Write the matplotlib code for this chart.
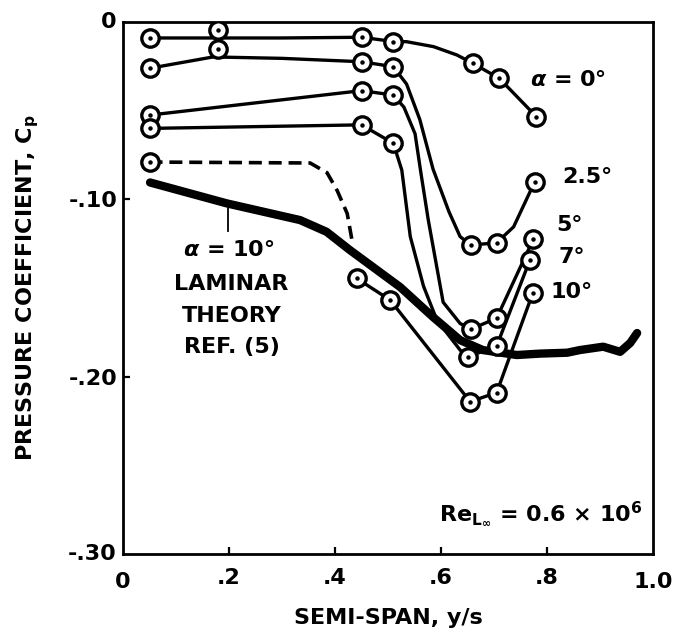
import matplotlib
matplotlib.use("Agg")
import matplotlib.pyplot as plt

plt.rcParams['font.family'] = ['DejaVu Sans']
plt.rcParams['font.weight'] = 'bold'
plt.rcParams['mathtext.fontset'] = 'dejavusans'

# ---- measured points (semi-span y/s, pressure coefficient Cp) ----
a0_x = [0.05, 0.18, 0.45, 0.51, 0.66, 0.71, 0.78]
a0_y = [-0.009, -0.0045, -0.0086, -0.011, -0.0233, -0.0318, -0.0534]

a25_x = [0.05, 0.18, 0.45, 0.51, 0.656, 0.705, 0.777]
a25_y = [-0.0261, -0.0154, -0.0224, -0.0252, -0.1258, -0.1245, -0.090]

a5_x = [0.05, 0.45, 0.51, 0.656, 0.705, 0.774]
a5_y = [-0.0525, -0.0387, -0.0412, -0.1733, -0.167, -0.1226]

a7_x = [0.05, 0.45, 0.51, 0.651, 0.705, 0.768]
a7_y = [-0.060, -0.058, -0.0684, -0.1888, -0.1827, -0.134]

a10_x = [0.05, 0.441, 0.504, 0.655, 0.705, 0.773]
a10_y = [-0.079, -0.1446, -0.1568, -0.2141, -0.209, -0.153]

# ---- faired curves drawn through the data ----
a0_fx = [0.05, 0.30, 0.45, 0.51, 0.535, 0.586, 0.63, 0.66, 0.71, 0.78]
a0_fy = [-0.009, -0.0090, -0.0086, -0.011, -0.0111, -0.0139, -0.0186, -0.0233, -0.0318, -0.0534]

a25_fx = [0.05, 0.17, 0.30, 0.45, 0.51, 0.535, 0.56, 0.585, 0.615, 0.636, 0.656, 0.705, 0.737, 0.777]
a25_fy = [-0.0261, -0.0197, -0.0205, -0.0224, -0.0252, -0.035, -0.055, -0.083, -0.107, -0.121, -0.1258, -0.1245, -0.1155, -0.090]

a5_fx = [0.05, 0.45, 0.51, 0.530, 0.551, 0.562, 0.576, 0.604, 0.636, 0.656, 0.705, 0.774]
a5_fy = [-0.0525, -0.0387, -0.0412, -0.048, -0.063, -0.085, -0.1117, -0.158, -0.170, -0.1733, -0.167, -0.1226]

a7_fx = [0.05, 0.45, 0.51, 0.526, 0.542, 0.567, 0.592, 0.636, 0.651, 0.705, 0.768]
a7_fy = [-0.060, -0.058, -0.0684, -0.0835, -0.121, -0.149, -0.168, -0.185, -0.1888, -0.1827, -0.134]

a10_fx = [0.441, 0.504, 0.655, 0.705, 0.773]
a10_fy = [-0.1446, -0.1568, -0.2141, -0.209, -0.153]

# dashed fairing of the alpha = 10 deg data near the root
a10_dx = [0.05, 0.066, 0.353, 0.385, 0.404, 0.423, 0.432]
a10_dy = [-0.079, -0.079, -0.0795, -0.085, -0.095, -0.108, -0.123]

# laminar theory, alpha = 10 deg, Ref. (5)
th_x = [0.051, 0.196, 0.334, 0.384, 0.428, 0.523, 0.585, 0.636, 0.679, 0.743,
        0.787, 0.838, 0.862, 0.906, 0.938, 0.957, 0.970]
th_y = [-0.0905, -0.1023, -0.1117, -0.1183, -0.1286, -0.1495, -0.1664, -0.1794, -0.185, -0.1878,
        -0.187, -0.1865, -0.185, -0.1831, -0.186, -0.181, -0.1754]

x_ticks = [0, 0.2, 0.4, 0.6, 0.8, 1.0]
x_tick_labels = ['0', '.2', '.4', '.6', '.8', '1.0']
y_ticks = [0, -0.10, -0.20, -0.30]
y_tick_labels = ['0', '-.10', '-.20', '-.30']

FS = 16
fig = plt.figure(figsize=(6.73, 6.38), dpi=100)
ax = fig.add_axes([0.1828, 0.1317, 0.7875, 0.8338])
ax.set_xlim(0, 1.0)
ax.set_ylim(-0.30, 0)

LW = 2.4
for fx, fy in [(a0_fx, a0_fy), (a25_fx, a25_fy), (a5_fx, a5_fy),
               (a7_fx, a7_fy), (a10_fx, a10_fy)]:
    ax.plot(fx, fy, color='black', lw=LW, solid_capstyle='round',
            solid_joinstyle='round', zorder=2)

ax.plot(a10_dx, a10_dy, color='black', lw=2.6, dashes=(3.6, 1.9), zorder=2)
ax.plot(th_x, th_y, color='black', lw=6, solid_capstyle='round',
        solid_joinstyle='round', zorder=2)

for mx, my in [(a0_x, a0_y), (a25_x, a25_y), (a5_x, a5_y),
               (a7_x, a7_y), (a10_x, a10_y)]:
    ax.plot(mx, my, 'o', ms=12.5, mfc='white', mec='black', mew=2.4, zorder=3)
    ax.plot(mx, my, 'o', ms=2.2, color='black', zorder=4)

# curve labels
ax.text(0.768, -0.0327, r'$\alpha$ = 0°', fontsize=FS, fontweight='bold', va='center', ha='left')
ax.text(0.828, -0.0874, '2.5°', fontsize=FS, fontweight='bold', va='center', ha='left')
ax.text(0.818, -0.1145, '5°', fontsize=FS, fontweight='bold', va='center', ha='left')
ax.text(0.821, -0.1324, '7°', fontsize=FS, fontweight='bold', va='center', ha='left')
ax.text(0.806, -0.152, '10°', fontsize=FS, fontweight='bold', va='center', ha='left')

# theory callout
ax.plot([0.199, 0.199], [-0.1032, -0.118], color='black', lw=1.3, zorder=2)
ax.text(0.199, -0.1286, r'$\alpha$ = 10°', fontsize=FS, fontweight='bold', ha='center', va='center')
ax.text(0.205, -0.148, 'LAMINAR', fontsize=FS, fontweight='bold', ha='center', va='center')
ax.text(0.205, -0.166, 'THEORY', fontsize=FS, fontweight='bold', ha='center', va='center')
ax.text(0.205, -0.183, 'REF. (5)', fontsize=FS, fontweight='bold', ha='center', va='center')

ax.text(0.981, -0.2815,
        r'$\mathbf{Re}_{\mathbf{L}_{\mathbf{\infty}}}$ = 0.6 × 10$^{\mathbf{6}}$',
        fontsize=FS, fontweight='bold', ha='right', va='baseline')

# axes styling
for s in ax.spines.values():
    s.set_linewidth(2.0)
ax.set_xticks(x_ticks[1:-1])
ax.set_xticklabels(x_tick_labels[1:-1])
ax.set_yticks(y_ticks[1:-1])
ax.set_yticklabels(y_tick_labels[1:-1])
ax.tick_params(axis='both', direction='in', length=5, width=1.6, labelsize=FS)
ax.tick_params(axis='x', pad=10)
ax.tick_params(axis='y', pad=4)
for lab in ax.get_xticklabels() + ax.get_yticklabels():
    lab.set_fontweight('bold')

# end labels sit at the corners without tick marks
ax.text(0.0, -0.034, x_tick_labels[0], transform=ax.transAxes, fontsize=FS,
        fontweight='bold', ha='center', va='top')
ax.text(1.0, -0.034, x_tick_labels[-1], transform=ax.transAxes, fontsize=FS,
        fontweight='bold', ha='center', va='top')
ax.text(-0.012, 1.0, y_tick_labels[0], transform=ax.transAxes, fontsize=FS,
        fontweight='bold', ha='right', va='center')
ax.text(-0.012, 0.0, y_tick_labels[-1], transform=ax.transAxes, fontsize=FS,
        fontweight='bold', ha='right', va='center')

ax.set_xlabel('SEMI-SPAN, y/s', fontsize=FS, fontweight='bold')
ax.xaxis.set_label_coords(0.5, -0.101)
ax.set_ylabel(r'PRESSURE COEFFICIENT, C$_{\mathbf{p}}$', fontsize=FS, fontweight='bold')
ax.yaxis.set_label_coords(-0.155, 0.5)

fig.savefig('out.png', dpi=100)
